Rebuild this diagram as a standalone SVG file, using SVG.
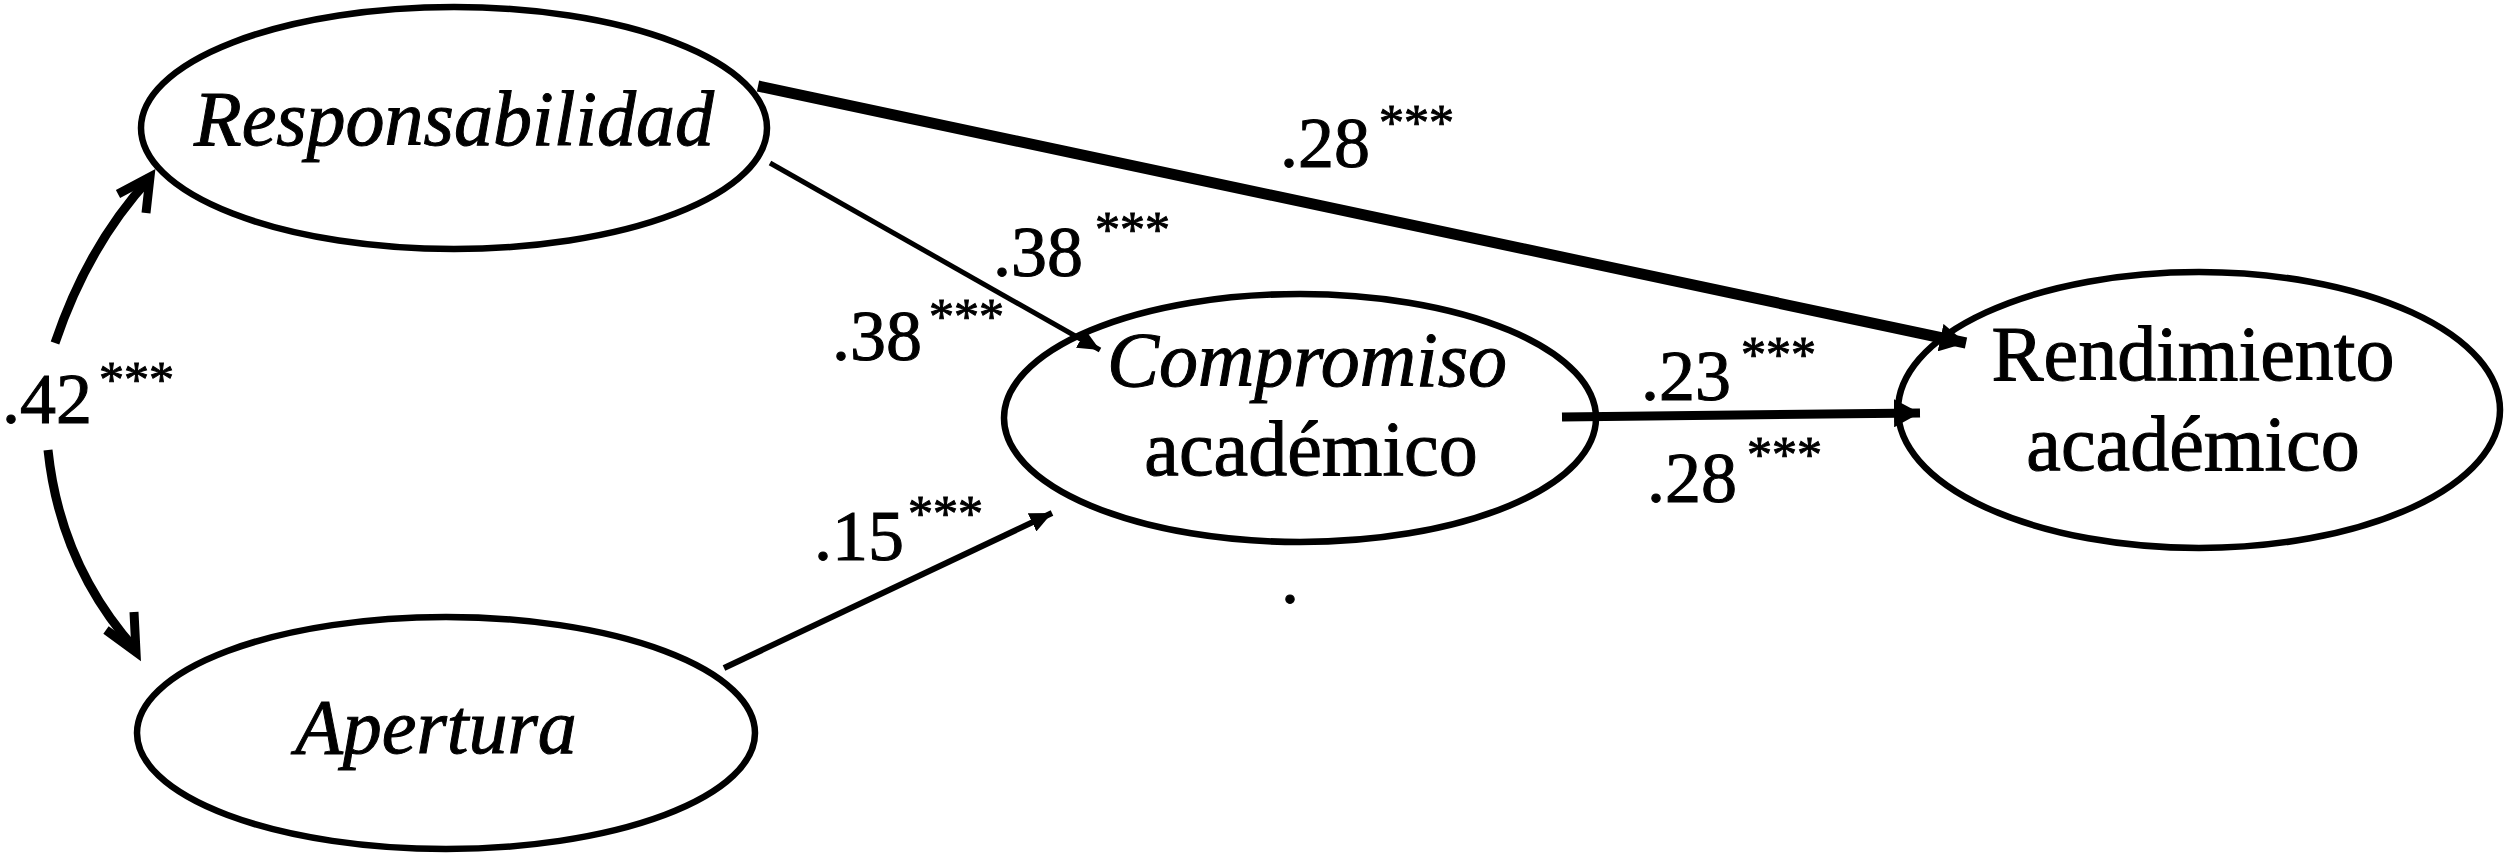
<svg xmlns="http://www.w3.org/2000/svg" width="2508" height="856" viewBox="0 0 2508 856">
<defs>
<style>
.node ellipse{fill:#fff;stroke:#000;stroke-width:6.5}
.lbl{font-size:78px;fill:#000;stroke:#000;stroke-width:1;text-anchor:middle}
.it{font-style:italic}
.num{font-size:72px;fill:#000;stroke:#000;stroke-width:1}
.ast{font-size:50px}
.edge{fill:none;stroke:#000}
.chev{fill:none;stroke:#000;stroke-width:9;stroke-linecap:butt;stroke-linejoin:miter}
</style>
<marker id="triL" viewBox="0 0 26 28" refX="26" refY="14" markerWidth="26" markerHeight="28" markerUnits="userSpaceOnUse" orient="auto"><path d="M0,0 L26,14 L0,28 z" fill="#000"/></marker>
<marker id="triS" viewBox="0 0 22 20" refX="22" refY="10" markerWidth="22" markerHeight="20" markerUnits="userSpaceOnUse" orient="auto"><path d="M0,0 L22,10 L0,20 z" fill="#000"/></marker>
</defs>
<rect width="2508" height="856" fill="#fff"/>

<g id="responsabilidad" class="node">
<ellipse cx="454" cy="128" rx="313" ry="121"/>
<text class="lbl it" font-family="'Liberation Serif', 'Times New Roman', Times, serif" x="454" y="145">Responsabilidad</text>
</g>
<g id="apertura" class="node">
<ellipse cx="446" cy="733" rx="309" ry="116"/>
<text class="lbl it" font-family="'Liberation Serif', 'Times New Roman', Times, serif" x="436" y="753">Apertura</text>
</g>
<g id="compromiso" class="node">
<ellipse cx="1300" cy="418" rx="296" ry="124"/>
<text class="lbl it" font-family="'Liberation Serif', 'Times New Roman', Times, serif" x="1307" y="386">Compromiso</text>
<text class="lbl" font-family="'Liberation Serif', 'Times New Roman', Times, serif" x="1311" y="475">académico</text>
</g>
<g id="rendimiento" class="node">
<ellipse cx="2199" cy="410" rx="301" ry="138"/>
<text class="lbl" font-family="'Liberation Serif', 'Times New Roman', Times, serif" x="2193" y="380">Rendimiento</text>
<text class="lbl" font-family="'Liberation Serif', 'Times New Roman', Times, serif" x="2193" y="470">académico</text>
</g>

<g id="connectors">
<path class="edge" d="M758,86 L1966,343" stroke-width="11" marker-end="url(#triL)"/>
<path class="edge" d="M770,163 L1100,350" stroke-width="5" marker-end="url(#triS)"/>
<path class="edge" d="M724,668 L1052,513" stroke-width="6" marker-end="url(#triS)"/>
<path class="edge" d="M1562,417 L1920,413" stroke-width="9" marker-end="url(#triL)"/>
<path class="edge" d="M55,343 Q88,245 150,178" stroke-width="9"/>
<path class="chev" d="M118,194 L150,177 L146,213"/>
<path class="edge" d="M48,450 Q60,565 136,650" stroke-width="9"/>
<path class="chev" d="M106,630 L136,652 L134,612"/>
</g>

<g id="labels" font-family="'Liberation Serif', 'Times New Roman', Times, serif">
<text class="num" x="2" y="423">.42<tspan class="ast" x="99" y="396">***</tspan></text>
<text class="num" x="1280" y="167">.28<tspan class="ast" x="1379" y="139">***</tspan></text>
<text class="num" x="993" y="276">.38<tspan class="ast" x="1095" y="246">***</tspan></text>
<text class="num" x="832" y="360">.38<tspan class="ast" x="929" y="333">***</tspan></text>
<text class="num" x="814" y="560">.15<tspan class="ast" x="908" y="530">***</tspan></text>
<text class="num" x="1641" y="400">.23<tspan class="ast" x="1741" y="371">***</tspan></text>
<text class="num" x="1647" y="502">.28<tspan class="ast" x="1747" y="471">***</tspan></text>
<text class="num" x="1281" y="603">.</text>
</g>
</svg>
